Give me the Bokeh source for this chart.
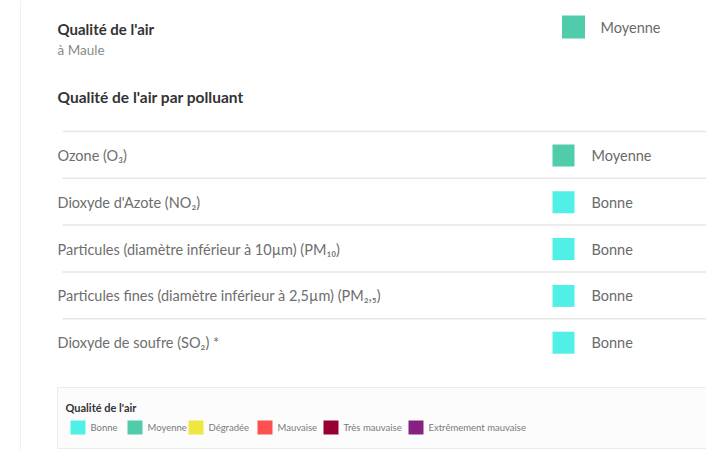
from bokeh.plotting import figure
from bokeh.models import Range1d, ColumnDataSource
from bokeh.core.properties import value
from bokeh.embed import file_html
from bokeh.resources import INLINE

# ---- data ----
title = "Qualité de l'air"
location = "à Maule"
overall_level = "Moyenne"
section_title = "Qualité de l'air par polluant"
pollutants = [
    "Ozone (O₃)",
    "Dioxyde d'Azote (NO₂)",
    "Particules (diamètre inférieur à 10µm) (PM₁₀)",
    "Particules fines (diamètre inférieur à 2,5µm) (PM₂,₅)",
    "Dioxyde de soufre (SO₂) *",
]
pollutant_levels = ["Moyenne", "Bonne", "Bonne", "Bonne", "Bonne"]
legend_title = "Qualité de l'air"
legend_labels = ["Bonne", "Moyenne", "Dégradée", "Mauvaise", "Très mauvaise", "Extrêmement mauvaise"]
legend_colors = ["#50F0E6", "#50CCAA", "#F0E641", "#FF5050", "#960032", "#872181"]

color_of = dict(zip(legend_labels, legend_colors))

# ---- layout (pixel frame) ----
W, H = 706, 450
FONT = value("Lato")

p = figure(width=W, height=H, output_backend="svg", toolbar_location=None,
           x_range=Range1d(0, W), y_range=Range1d(H, 0),
           x_axis_location=None, y_axis_location=None, min_border=0)
p.grid.visible = False
p.outline_line_color = None
p.background_fill_color = "white"
p.border_fill_color = "white"

# card left border
p.segment(x0=[20], y0=[0], x1=[20], y1=[H], line_color="#f1f1f1", line_width=1)

# header
p.text(x=[57], y=[28], text=[title], text_font=FONT, text_font_size="15px",
       text_font_style="bold", text_color="#333333", text_baseline="middle")
p.text(x=[57], y=[49], text=[location], text_font=FONT, text_font_size="13.5px",
       text_color="#8a8a8a", text_baseline="middle")
p.rect(x=[573], y=[26.5], width=23, height=23, fill_color=color_of[overall_level],
       line_color=None)
p.text(x=[600], y=[27], text=[overall_level], text_font=FONT, text_font_size="14.5px",
       text_color="#6a6a6a", text_baseline="middle")
p.text(x=[57], y=[96], text=[section_title], text_font=FONT, text_font_size="15.5px",
       text_font_style="bold", text_color="#333333", text_baseline="middle")

# pollutant rows
first, step = 155, 46.8
ys = [first + i * step for i in range(len(pollutants))]
src = ColumnDataSource(dict(
    name=pollutants, level=pollutant_levels, y=ys,
    sep=[y - 24 for y in ys],
    color=[color_of[l] for l in pollutant_levels],
))
p.segment(x0=62, x1=W, y0="sep", y1="sep", source=src, line_color="#e6e6e6", line_width=1.5)
p.text(x=57, y="y", text="name", source=src, text_font=FONT, text_font_size="14.5px",
       text_color="#6e6e6e", text_baseline="middle")
p.rect(x=563, y="y", width=22, height=22, fill_color="color", line_color=None, source=src)
p.text(x=591, y="y", text="level", source=src, text_font=FONT, text_font_size="14.5px",
       text_color="#6a6a6a", text_baseline="middle")

# legend box
p.quad(left=[57], right=[W + 5], top=[387], bottom=[448], fill_color="#fcfcfc",
       line_color="#ebebeb", line_width=1)
p.text(x=[65], y=[407], text=[legend_title], text_font=FONT, text_font_size="11px",
       text_font_style="bold", text_color="#333333", text_baseline="middle")
leg_x = [70, 127, 188, 257, 323, 408]
lsrc = ColumnDataSource(dict(
    x=[x + 7.5 for x in leg_x], tx=[x + 20 for x in leg_x],
    label=legend_labels, color=legend_colors,
))
p.rect(x="x", y=427, width=15, height=14, fill_color="color", line_color=None, source=lsrc)
p.text(x="tx", y=427, text="label", source=lsrc, text_font=FONT, text_font_size="9.5px",
       text_color="#7a7a7a", text_baseline="middle")

open("out.html", "w").write(file_html(p, INLINE))
